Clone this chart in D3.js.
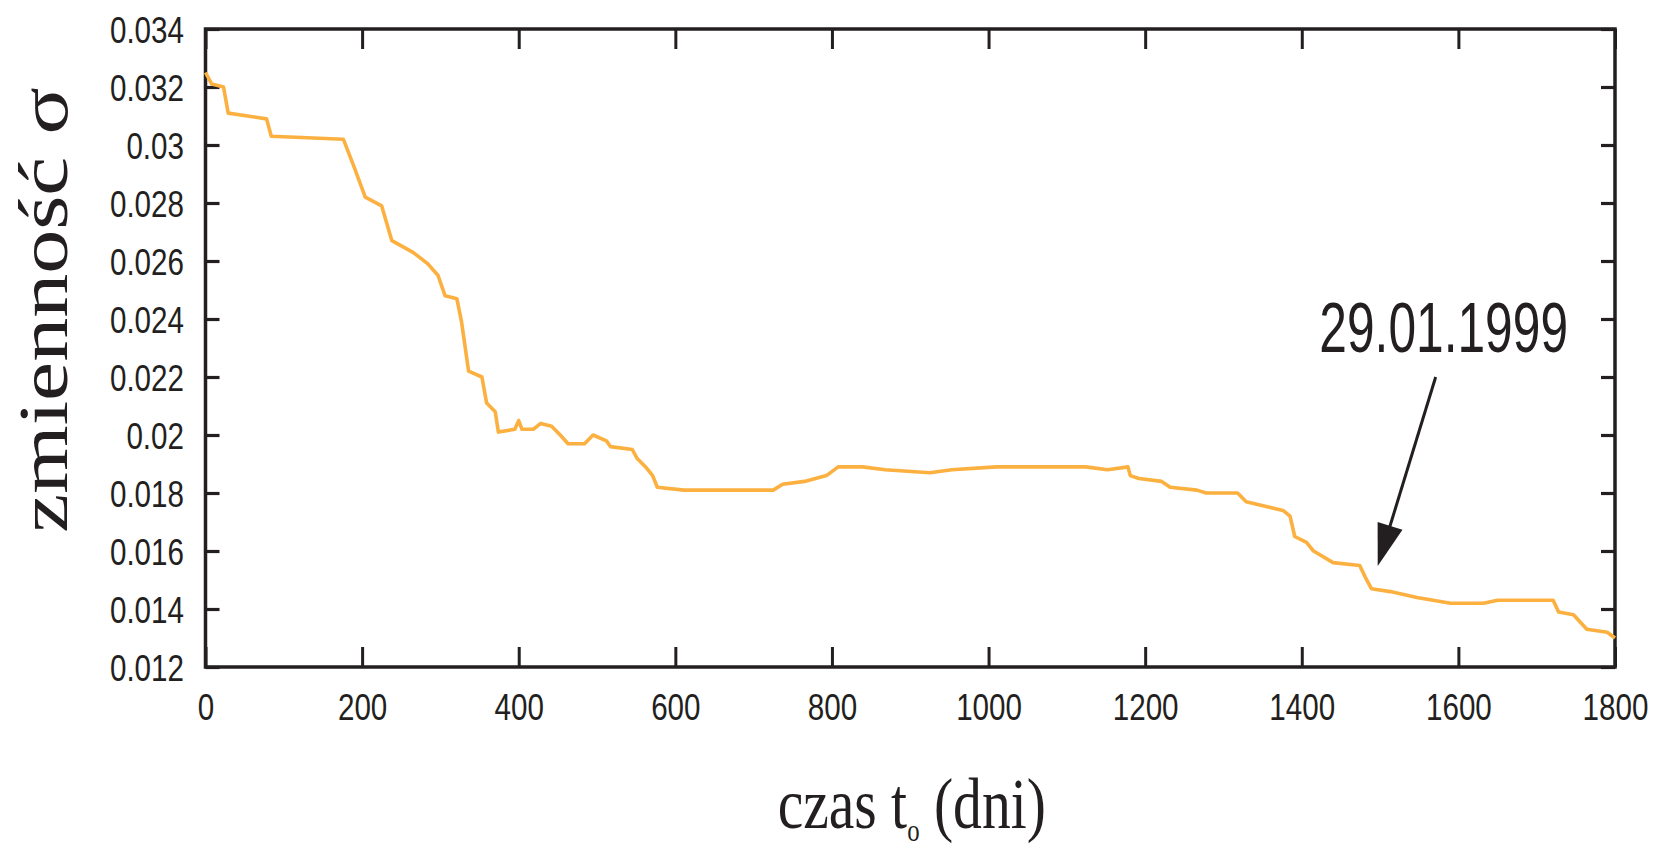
<!DOCTYPE html>
<html>
<head>
<meta charset="utf-8">
<script src="https://cdn.jsdelivr.net/npm/d3@7"></script>
<style>
  html, body { margin: 0; padding: 0; background: #ffffff; }
  svg { display: block; }
</style>
</head>
<body>
<svg id="chart" width="1657" height="849"></svg>
<script>
// Time t0 in days and the corresponding volatility sigma
const days = [0, 8, 23, 29, 78, 84, 176, 189, 204, 225, 238, 265, 284, 297, 306, 321, 327, 336,
  353, 359, 370, 374, 395, 400, 404, 419, 428, 442, 453, 463, 484, 495, 512, 517, 545, 551,
  562, 571, 577, 611, 668, 725, 737, 765, 793, 808, 839, 868, 925, 953, 1010, 1067, 1124,
  1152, 1178, 1181, 1192, 1221, 1232, 1266, 1278, 1318, 1329, 1376, 1385, 1391, 1406, 1415,
  1440, 1474, 1481, 1489, 1513, 1547, 1590, 1632, 1650, 1696, 1721, 1728, 1747, 1764, 1790, 1800];
const sigma = [0.0325, 0.0321, 0.0320, 0.0311, 0.0309, 0.0303, 0.0302, 0.0293, 0.0282, 0.0279,
  0.0267, 0.0263, 0.0259, 0.0255, 0.0248, 0.0247, 0.0239, 0.0222, 0.0220, 0.0211, 0.0208,
  0.0201, 0.0202, 0.0205, 0.0202, 0.0202, 0.0204, 0.0203, 0.0200, 0.0197, 0.0197, 0.0200,
  0.0198, 0.0196, 0.0195, 0.0192, 0.0189, 0.0186, 0.0182, 0.0181, 0.0181, 0.0181, 0.0183,
  0.0184, 0.0186, 0.0189, 0.0189, 0.0188, 0.0187, 0.0188, 0.0189, 0.0189, 0.0189, 0.0188,
  0.0189, 0.0186, 0.0185, 0.0184, 0.0182, 0.0181, 0.0180, 0.0180, 0.0177, 0.0174, 0.0172,
  0.0165, 0.0163, 0.0160, 0.0156, 0.0155, 0.0151, 0.0147, 0.0146, 0.0144, 0.0142, 0.0142,
  0.0143, 0.0143, 0.0143, 0.0139, 0.0138, 0.0133, 0.0132, 0.0130];

// Axis ticks
const xTicks = [0, 200, 400, 600, 800, 1000, 1200, 1400, 1600, 1800];
const yTicks = [0.012, 0.014, 0.016, 0.018, 0.02, 0.022, 0.024, 0.026, 0.028, 0.03, 0.032, 0.034];
const yTickLabels = ["0.012", "0.014", "0.016", "0.018", "0.02", "0.022", "0.024", "0.026",
  "0.028", "0.03", "0.032", "0.034"];

// Annotated date: arrow from the label down to the curve
const noteText = ["29.01.1999"];
const noteTail = [1571, 0.0220];
const noteHead = [1497, 0.01548];

const xTitle = ["czas t", "o", " (dni)"];
const yTitle = "zmienność σ";

const W = 1657, H = 849;
const margin = { top: 29, right: 42, bottom: 182, left: 205.5 };
const innerW = W - margin.left - margin.right;
const innerH = H - margin.top - margin.bottom;

const ink = "#231f20";
const lineColor = "#fbb040";

const svg = d3.select("#chart");
const g = svg.append("g").attr("transform", `translate(${margin.left},${margin.top})`);

const x = d3.scaleLinear().domain([0, 1800]).range([0, innerW]);
const y = d3.scaleLinear().domain([0.012, 0.034]).range([innerH, 0]);

const labelFont = "'Liberation Sans', Arial, Helvetica, sans-serif";
const serifFont = "'Liberation Serif', 'Times New Roman', serif";
const squeeze = 0.8;

// Bottom axis with labels
const xAxis = g.append("g")
  .attr("transform", `translate(0,${innerH})`)
  .call(d3.axisBottom(x).tickValues(xTicks).tickSize(-20).tickSizeOuter(0).tickFormat(d3.format("d")));
xAxis.select(".domain").remove();
xAxis.selectAll(".tick line").attr("stroke", ink).attr("stroke-width", 3);
xAxis.selectAll(".tick text")
  .attr("fill", ink)
  .attr("font-family", labelFont)
  .attr("font-size", 37)
  .attr("dy", null)
  .attr("y", 53)
  .attr("transform", `scale(${squeeze},1)`);

// Top mirror ticks
const xTop = g.append("g")
  .call(d3.axisTop(x).tickValues(xTicks).tickSize(-20).tickSizeOuter(0).tickFormat(""));
xTop.select(".domain").remove();
xTop.selectAll(".tick line").attr("stroke", ink).attr("stroke-width", 3);

// Left axis with labels
const yAxis = g.append("g")
  .call(d3.axisLeft(y).tickValues(yTicks).tickSize(-14).tickSizeOuter(0)
    .tickFormat((d, i) => yTickLabels[i]));
yAxis.select(".domain").remove();
yAxis.selectAll(".tick line").attr("stroke", ink).attr("stroke-width", 3.2);
yAxis.selectAll(".tick text")
  .attr("fill", ink)
  .attr("font-family", labelFont)
  .attr("font-size", 37)
  .attr("x", -21.5 / squeeze)
  .attr("dy", "0.36em")
  .attr("transform", `scale(${squeeze},1)`);

// Right mirror ticks
const yRight = g.append("g")
  .attr("transform", `translate(${innerW},0)`)
  .call(d3.axisRight(y).tickValues(yTicks).tickSize(-14).tickSizeOuter(0).tickFormat(""));
yRight.select(".domain").remove();
yRight.selectAll(".tick line").attr("stroke", ink).attr("stroke-width", 3.2);

// Plot frame
g.append("rect")
  .attr("x", 0).attr("y", 0)
  .attr("width", innerW).attr("height", innerH)
  .attr("fill", "none")
  .attr("stroke", ink)
  .attr("stroke-width", 3.5);

// Volatility curve
const series = days.map((d, i) => [d, sigma[i]]);
g.append("path")
  .datum(series)
  .attr("fill", "none")
  .attr("stroke", lineColor)
  .attr("stroke-width", 3.6)
  .attr("stroke-linejoin", "round")
  .attr("d", d3.line().x(d => x(d[0])).y(d => y(d[1])));

// Annotation arrow
const tx = x(noteTail[0]), ty = y(noteTail[1]);
const hx = x(noteHead[0]), hy = y(noteHead[1]);
const len = Math.hypot(hx - tx, hy - ty);
const ux = (hx - tx) / len, uy = (hy - ty) / len;
const headLen = 42, headHalf = 13;
const bx = hx - ux * headLen, by = hy - uy * headLen;
g.append("line")
  .attr("x1", tx).attr("y1", ty)
  .attr("x2", bx + ux * 4).attr("y2", by + uy * 4)
  .attr("stroke", ink).attr("stroke-width", 3);
g.append("path")
  .attr("d", `M${hx},${hy}L${bx - uy * headHalf},${by + ux * headHalf}L${bx + uy * headHalf},${by - ux * headHalf}Z`)
  .attr("fill", ink);

g.append("g")
  .attr("transform", `translate(${tx + 8},${ty - 25}) scale(0.71,1)`)
  .append("text")
  .attr("text-anchor", "middle")
  .attr("font-family", labelFont)
  .attr("font-size", 70)
  .attr("fill", ink)
  .text(noteText[0]);

// Axis titles
const xt = svg.append("g")
  .attr("transform", `translate(${margin.left + innerW / 2 + 1.5},828) scale(${squeeze},1)`)
  .append("text")
  .attr("text-anchor", "middle")
  .attr("font-family", serifFont)
  .attr("font-size", 72)
  .attr("fill", ink);
xt.append("tspan").text(xTitle[0]);
xt.append("tspan").attr("font-size", 31).attr("dy", 13).text(xTitle[1]);
xt.append("tspan").attr("dy", -13).text(xTitle[2]);

svg.append("g")
  .attr("transform", "translate(67,310) rotate(-90) scale(1,0.8)")
  .append("text")
  .attr("text-anchor", "middle")
  .attr("font-family", serifFont)
  .attr("font-size", 88)
  .attr("fill", ink)
  .text(yTitle);
</script>
</body>
</html>
